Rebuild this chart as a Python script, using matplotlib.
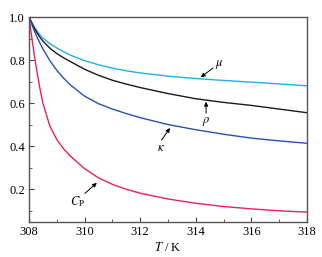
import numpy as np
import matplotlib
matplotlib.use("Agg")
import matplotlib.pyplot as plt
from matplotlib.ticker import MultipleLocator

plt.rcParams['font.family'] = ['Liberation Serif', 'DejaVu Serif']
plt.rcParams['mathtext.fontset'] = 'stix'

# temperature, K
T = [308, 308.1, 308.2, 308.3, 308.4, 308.5, 308.75, 309, 309.25, 309.5,
     310, 310.5, 311, 311.5, 312, 313, 314, 315, 316, 317, 318]

# normalised properties
mu = [1.0, 0.975, 0.952, 0.933, 0.916, 0.902, 0.876, 0.856, 0.838, 0.822,
      0.797, 0.778, 0.762, 0.750, 0.740, 0.725, 0.714, 0.705, 0.697, 0.689, 0.680]
rho = [1.0, 0.972, 0.946, 0.924, 0.905, 0.888, 0.855, 0.830, 0.810, 0.792,
       0.757, 0.729, 0.706, 0.688, 0.672, 0.644, 0.620, 0.603, 0.589, 0.572, 0.555]
kappa = [1.0, 0.965, 0.933, 0.904, 0.877, 0.852, 0.797, 0.752, 0.715, 0.683,
         0.632, 0.597, 0.572, 0.551, 0.532, 0.500, 0.476, 0.455, 0.437, 0.424, 0.413]
cp = [1.0, 0.905, 0.815, 0.735, 0.663, 0.600, 0.493, 0.430, 0.386, 0.352,
      0.295, 0.252, 0.222, 0.199, 0.181, 0.154, 0.134, 0.119, 0.108, 0.099, 0.093]

fig = plt.figure(figsize=(3.22, 2.57), dpi=100)
ax = fig.add_axes([29/322, 1-222/257, (307-29)/322, (222-17)/257])

ax.plot(T, mu, color='#22aee8', lw=1.0)
ax.plot(T, rho, color='#1a1a1a', lw=1.0)
ax.plot(T, kappa, color='#2b4fb5', lw=1.0)
ax.plot(T, cp, color='#ec1e63', lw=1.0)

ax.set_xlim(308, 318)
ax.set_ylim(0.047, 1.0)
ax.xaxis.set_major_locator(MultipleLocator(2))
ax.xaxis.set_minor_locator(MultipleLocator(1))
ax.yaxis.set_major_locator(MultipleLocator(0.2))
ax.yaxis.set_minor_locator(MultipleLocator(0.1))
ax.set_yticks([0.2, 0.4, 0.6, 0.8, 1.0])
ax.set_yticklabels(['0.2', '0.4', '0.6', '0.8', '1.0'])
ax.tick_params(which='both', direction='in', top=False, right=False,
               labelsize=9, color='#444444', pad=3)
ax.tick_params(which='major', length=3.5)
ax.tick_params(which='minor', length=2)
for s in ax.spines.values():
    s.set_color('#555555')
    s.set_linewidth(1.0)

ax.set_xlabel('$T$ / K', fontsize=9, labelpad=2)

arrow = dict(arrowstyle='-|>', color='black', lw=0.7, mutation_scale=6,
             shrinkA=0, shrinkB=0)
ax.annotate('', xy=(314.18, 0.72), xytext=(314.62, 0.763), arrowprops=arrow)
ax.text(314.85, 0.777, r'$\mu$', fontsize=9, ha='center', va='center')
ax.annotate('', xy=(314.37, 0.606), xytext=(314.37, 0.553), arrowprops=arrow)
ax.text(314.37, 0.515, r'$\rho$', fontsize=9, ha='center', va='center')
ax.annotate('', xy=(313.07, 0.484), xytext=(312.77, 0.428), arrowprops=arrow)
ax.text(312.75, 0.39, r'$\kappa$', fontsize=9, ha='center', va='center')
ax.annotate('', xy=(310.44, 0.229), xytext=(310.01, 0.18), arrowprops=arrow)
ax.text(309.75, 0.14, r'$C_{\mathrm{P}}$', fontsize=9, ha='center', va='center')

fig.savefig('out.png', dpi=100)
